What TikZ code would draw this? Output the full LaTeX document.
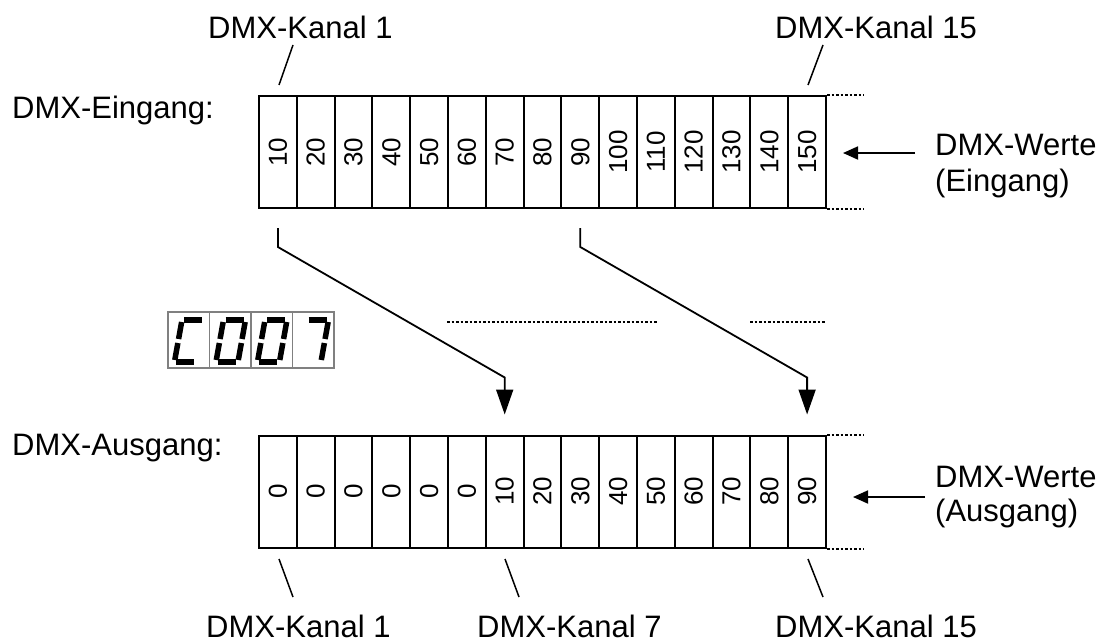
\documentclass[tikz,border=0pt]{standalone}
\usepackage{fontspec}
\setmainfont{Liberation Sans}
\usetikzlibrary{arrows.meta}
\begin{document}
\begin{tikzpicture}[x=1pt,y=-1pt,
  cell/.style={draw,line width=2pt,minimum width=37.8pt,minimum height=112pt,inner sep=0pt},
  val/.style={rotate=90,font=\fontsize{26}{28}\selectfont,inner sep=0pt},
  lbl/.style={anchor=base west,inner sep=0pt,font=\fontsize{31}{36}\selectfont},
  conn/.style={line width=1.8pt,-{Triangle[length=25pt,width=17pt]}},
  pointer/.style={line width=1.8pt,-{Triangle[length=15pt,width=13pt]}},
  tick/.style={line width=1.5pt},
  dots/.style={line width=2pt,dash pattern=on 2.5pt off 2pt},
  segbox/.style={draw=black!50,line width=1.5pt,fill=white},
  seg/.style={line width=5.5pt,line cap=butt}]
\useasboundingbox (0,0) rectangle (1110,642);

% cells
\foreach \i in {1,...,15}{
  \pgfmathtruncatemacro\v{10*\i}
  \node[cell] (in\i) at ({259+37.8*(\i-0.5)},152) {};
  \node[val] at (in\i) {\v};
  \pgfmathtruncatemacro\w{max(0,10*(\i-6))}
  \node[cell] (out\i) at ({259+37.8*(\i-0.5)},491.5) {};
  \node[val] at (out\i) {\w};
}

% dotted continuations
\draw[dots] (in15.north east) -- ++(37,0);
\draw[dots] (in15.south east) -- ++(37,0);
\draw[dots] (out15.north east) -- ++(37,0);
\draw[dots] (out15.south east) -- ++(37,0);
\coordinate (m1a) at (447,322); \coordinate (m1b) at (658,322);
\coordinate (m2a) at (750,322); \coordinate (m2b) at (826,322);
\draw[dots] (m1a) -- (m1b);
\draw[dots] (m2a) -- (m2b);

% labels
\node[lbl] (eing) at (12,118) {DMX-Eingang:};
\node[lbl] (ausg) at (12,455) {DMX-Ausgang:};
\node[lbl] (k1t) at (208,39) {DMX-Kanal 1};
\node[lbl] (k15t) at (775,39) {DMX-Kanal 15};
\node[lbl] (k1b) at (206,637) {DMX-Kanal 1};
\node[lbl] (k7b) at (477,637) {DMX-Kanal 7};
\node[lbl] (k15b) at (775,637) {DMX-Kanal 15};
\node[lbl] (w1) at (935,155) {DMX-Werte};
\node[lbl] (e1) at (935,191) {(Eingang)};
\node[lbl] (w2) at (935,487) {DMX-Werte};
\node[lbl] (a2) at (935,521) {(Ausgang)};

% label ticks
\coordinate (t1a) at (279,85); \coordinate (t1b) at (293,45);
\coordinate (t15a) at (808,85); \coordinate (t15b) at (823,45);
\coordinate (b1a) at (279,559); \coordinate (b1b) at (293,597);
\coordinate (b7a) at (505,559); \coordinate (b7b) at (519,597);
\coordinate (b15a) at (808,559); \coordinate (b15b) at (823,597);
\draw[tick] (t1a) -- (t1b);
\draw[tick] (t15a) -- (t15b);
\draw[tick] (b1a) -- (b1b);
\draw[tick] (b7a) -- (b7b);
\draw[tick] (b15a) -- (b15b);

% value pointers
\coordinate (p1) at (915,153); \coordinate (p1t) at (843,153);
\coordinate (p2) at (925,497); \coordinate (p2t) at (853,497);
\draw[pointer] (p1) -- (p1t);
\draw[pointer] (p2) -- (p2t);

% mapping arrows
\draw[conn] ([yshift=-19pt]in1.south) -- ([yshift=-38pt]in1.south)
  -- ([yshift=57pt]out7.north) -- ([yshift=20pt]out7.north);
\draw[conn] ([yshift=-19pt]in9.south) -- ([yshift=-38pt]in9.south)
  -- ([yshift=57pt]out15.north) -- ([yshift=20pt]out15.north);

% seven-segment display
\foreach \k in {0,1,2,3}{
  \node[segbox,minimum width=41.5pt,minimum height=56pt,inner sep=0pt] (d\k) at ({168+41.5*\k+20.75},340) {};
}
\def\sA{\draw[seg] (2,0)--(20,0);}
\def\sB{\draw[seg] (22,2)--(22,19);}
\def\sC{\draw[seg] (22,23)--(22,40);}
\def\sD{\draw[seg] (2,42)--(20,42);}
\def\sE{\draw[seg] (0,23)--(0,40);}
\def\sF{\draw[seg] (0,2)--(0,19);}
\begin{scope}[shift={(182,320)},xslant=0.18]\sA\sD\sE\sF\end{scope}
\begin{scope}[shift={(223.5,320)},xslant=0.18]\sA\sB\sC\sD\sE\sF\end{scope}
\begin{scope}[shift={(265,320)},xslant=0.18]\sA\sB\sC\sD\sE\sF\end{scope}
\begin{scope}[shift={(306.5,320)},xslant=0.18]\sA\sB\sC\end{scope}
\end{tikzpicture}
\end{document}
